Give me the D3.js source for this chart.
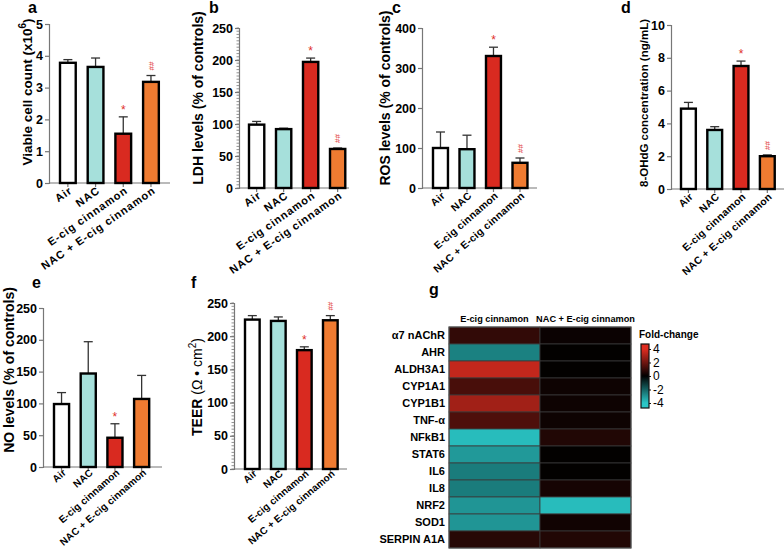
<!DOCTYPE html>
<html><head><meta charset="utf-8">
<script src="https://cdn.jsdelivr.net/npm/d3@7"></script>
<style>
body{margin:0;background:#fff;}
text{font-family:"Liberation Sans",Arial,sans-serif;}
</style></head>
<body>
<svg id="c" width="784" height="555"></svg>
<script>
// ---------- DATA ----------
const groups = ["Air", "NAC", "E-cig cinnamon", "NAC + E-cig cinnamon"];
const viableMean = [3.78, 3.65, 1.55, 3.18];
const viableErr  = [0.10, 0.28, 0.53, 0.20];
const ldhMean = [99, 92, 197, 61];
const ldhErr  = [5, 1.5, 6, 1.5];
const rosMean = [100, 97, 330, 63];
const rosErr  = [40, 35, 22, 12];
const ohdgMean = [4.9, 3.6, 7.5, 2.0];
const ohdgErr  = [0.38, 0.2, 0.3, 0.08];
const noMean = [99, 147, 46, 107];
const noErr  = [18, 50, 22, 37];
const teerMean = [225, 223, 179, 224];
const teerErr  = [6, 6, 5, 7];
const sigFull = ["", "", "*", "##"];
const sigStarOnly = ["", "", "*", ""];

const genes = ["α7 nAChR","AHR","ALDH3A1","CYP1A1","CYP1B1","TNF-α","NFkB1","STAT6","IL6","IL8","NRF2","SOD1","SERPIN A1A"];
const heatCols = ["E-cig cinnamon", "NAC + E-cig cinnamon"];
const foldEcig    = [0.9, -2.6, 3.5, 1.3, 2.9, 1.4, -3.8, -3.1, -2.5, -2.5, -3.0, -3.0, 0.7];
const foldNacEcig = [0.2, 0.05, 0.05, 0.25, 0.25, 0.25, 0.6, 0.05, 0.05, 0.4, -3.8, 0.3, 0.6];
const legendTicks = [4, 2, 0, -2, -4];

const barColors = ["#ffffff", "#a6e0db", "#d92a20", "#ef7b31"];

// ---------- DRAW ----------
const svg = d3.select("#c");

function barPanel(o) {
  const g = svg.append("g");
  const y = d3.scaleLinear().domain([0, o.max]).range([o.y0, o.yTop]);
  const r0 = o.L - 0.18 * o.S;
  const x = d3.scaleBand().domain(groups).range([r0, r0 + 4 * o.S]).paddingInner(0.36).paddingOuter(0.18);
  if (o.minor) {
    const mt = d3.range(0, o.max + 1e-9, o.minor);
    g.selectAll("line.minor").data(mt).join("line")
      .attr("x1", o.ax - 2.5).attr("x2", o.ax)
      .attr("y1", d => y(d)).attr("y2", d => y(d))
      .attr("stroke", "#777").attr("stroke-width", 0.8);
  }
  const axis = d3.axisLeft(y).tickValues(o.ticks).tickSize(4).tickPadding(2).tickFormat(d3.format("d"));
  const ag = g.append("g").attr("transform", `translate(${o.ax},0)`).call(axis);
  ag.select(".domain").attr("stroke", "#777").attr("stroke-width", 1.2);
  ag.selectAll(".tick line").attr("stroke", "#777").attr("stroke-width", 1.2);
  ag.selectAll(".tick text").attr("font-size", o.tickFs || 12.5).attr("font-weight", "bold").attr("fill", "#000")
    .attr("font-family", "Liberation Sans, Arial, sans-serif");
  g.append("line").attr("x1", o.ax).attr("x2", o.xEnd).attr("y1", o.y0).attr("y2", o.y0)
    .attr("stroke", "#777").attr("stroke-width", 1.2);
  g.selectAll("line.xt").data(groups).join("line")
    .attr("x1", d => x(d) + x.bandwidth() / 2).attr("x2", d => x(d) + x.bandwidth() / 2)
    .attr("y1", o.y0).attr("y2", o.y0 + 4).attr("stroke", "#777").attr("stroke-width", 1.2);
  g.selectAll("text.xl").data(groups).join("text")
    .attr("transform", d => `translate(${x(d) + x.bandwidth() / 2 + 3},${o.y0 + (o.xOff || 6)}) rotate(${-o.ang})`)
    .attr("text-anchor", "end").attr("font-size", o.xFs).attr("font-weight", "bold").attr("dy", "0.35em")
    .attr("letter-spacing", o.ls).text(d => d);
  g.selectAll("g.err").data(groups).join("g").each(function (d, i) {
    const cx = x(d) + x.bandwidth() / 2;
    const top = y(o.mean[i] + o.err[i]);
    const e = d3.select(this);
    e.append("line").attr("x1", cx).attr("x2", cx).attr("y1", y(o.mean[i])).attr("y2", top)
      .attr("stroke", "#333").attr("stroke-width", 1.3);
    e.append("line").attr("x1", cx - 4.5).attr("x2", cx + 4.5).attr("y1", top).attr("y2", top)
      .attr("stroke", "#333").attr("stroke-width", 1.3);
  });
  g.selectAll("rect.bar").data(groups).join("rect")
    .attr("x", d => x(d) + 1).attr("width", x.bandwidth() - 2)
    .attr("y", (d, i) => y(o.mean[i])).attr("height", (d, i) => o.y0 - y(o.mean[i]))
    .attr("fill", (d, i) => barColors[i]).attr("stroke", "#000").attr("stroke-width", 2.4);
  groups.forEach((d, i) => {
    const s = o.sig[i];
    if (!s) return;
    const cx = x(d) + x.bandwidth() / 2;
    const top = y(o.mean[i] + o.err[i]);
    if (s === "*") {
      g.append("text").attr("x", cx).attr("y", top - 3).attr("text-anchor", "middle")
        .attr("font-size", 12).attr("fill", "#e0302a").text("*");
    } else {
      g.append("text").attr("transform", `translate(${cx},${top - 5}) rotate(-90)`)
        .attr("text-anchor", "start").attr("dy", "0.35em").attr("font-size", 8).attr("fill", "#e0302a").text("##");
    }
  });
  const t = g.append("text").attr("transform", `translate(${o.tx},${o.ty}) rotate(-90)`)
    .attr("text-anchor", "middle").attr("font-size", o.titleFs || 14).attr("font-weight", "bold");
  o.title(t);
  svg.append("text").attr("x", o.lx).attr("y", o.ly).attr("font-size", 16).attr("font-weight", "bold").text(o.label);
}

barPanel({ label: "a", lx: 28, ly: 13, ax: 49, xEnd: 170, y0: 183, yTop: 24, max: 5, ticks: [0,1,2,3,4,5],
  L: 59, S: 27.7, mean: viableMean, err: viableErr, sig: sigFull, tx: 32, ty: 92, titleFs: 13.5, xFs: 11, ang: 35, ls: 0.9,
  title: t => { t.append("tspan").text("Viable cell count (x10"); t.append("tspan").attr("dy", -6).attr("font-size", 10).text("6");
               t.append("tspan").attr("dy", 6).text(")"); } });

barPanel({ label: "b", lx: 209, ly: 13, ax: 239, xEnd: 349, y0: 188, yTop: 28, max: 250, ticks: [0,50,100,150,200,250], minor: 5,
  L: 248, S: 27, mean: ldhMean, err: ldhErr, sig: sigFull, tx: 203, ty: 98, xFs: 11, ang: 35, ls: 0.8,
  title: t => t.text("LDH levels (% of controls)") });

barPanel({ label: "c", lx: 392, ly: 13, ax: 422, xEnd: 537, y0: 188, yTop: 28, max: 400, ticks: [0,100,200,300,400],
  L: 432, S: 26.5, mean: rosMean, err: rosErr, sig: sigFull, tx: 390, ty: 98, xFs: 10.3, ang: 41, ls: 0.3,
  title: t => t.text("ROS levels (% of controls)") });

barPanel({ label: "d", lx: 621, ly: 13, ax: 671, xEnd: 784, y0: 189, yTop: 25, max: 10, ticks: [0,2,4,6,8,10],
  L: 680, S: 26.3, mean: ohdgMean, err: ohdgErr, sig: sigFull, tx: 648, ty: 103, titleFs: 11.5, xFs: 10.3, ang: 42, ls: 0.3,
  title: t => t.text("8-OHdG concentration (ng/mL)") });

barPanel({ label: "e", lx: 32, ly: 288, ax: 43, xEnd: 162, y0: 467, yTop: 308, max: 250, ticks: [0,50,100,150,200,250],
  L: 53, S: 26.7, mean: noMean, err: noErr, sig: sigStarOnly, tx: 14, ty: 370, xFs: 10, ang: 41, ls: 0.15, xOff: 4,
  title: t => t.text("NO levels (% of controls)") });

barPanel({ label: "f", lx: 191, ly: 288, ax: 234, xEnd: 347, y0: 469, yTop: 303, max: 250, ticks: [0,50,100,150,200,250], minor: 5,
  L: 244, S: 26, mean: teerMean, err: teerErr, sig: sigFull, tx: 202, ty: 387, xFs: 10, ang: 40, ls: 0.1, xOff: 3,
  title: t => { t.append("tspan").text("TEER "); t.append("tspan").attr("font-weight", "normal").text("(Ω • cm");
               t.append("tspan").attr("dy", -6).attr("font-size", 10).attr("font-weight", "normal").text("2");
               t.append("tspan").attr("dy", 6).attr("font-weight", "normal").text(")"); } });

// ---------- HEATMAP ----------
const color = d3.scaleLinear().domain([-4, 0, 4]).range(["#2ac6c6", "#000000", "#de2c20"]).clamp(true);
const hx = d3.scaleBand().domain(heatCols).range([449, 631]);
const hy = d3.scaleBand().domain(genes).range([327, 548]);
const hg = svg.append("g");
const cells = [];
genes.forEach((gname, i) => {
  cells.push({ col: heatCols[0], gene: gname, v: foldEcig[i] });
  cells.push({ col: heatCols[1], gene: gname, v: foldNacEcig[i] });
});
hg.selectAll("rect").data(cells).join("rect")
  .attr("x", d => hx(d.col)).attr("y", d => hy(d.gene))
  .attr("width", hx.bandwidth()).attr("height", hy.bandwidth())
  .attr("fill", d => color(d.v)).attr("stroke", "#3a3a3a").attr("stroke-width", 0.8);
hg.append("rect").attr("x", 449).attr("y", 327).attr("width", 182).attr("height", 221)
  .attr("fill", "none").attr("stroke", "#555").attr("stroke-width", 1);
hg.selectAll("text.row").data(genes).join("text")
  .attr("x", 445).attr("y", d => hy(d) + hy.bandwidth() / 2).attr("dy", "0.35em")
  .attr("text-anchor", "end").attr("font-size", 11).attr("font-weight", "bold").text(d => d);
hg.selectAll("text.col").data(heatCols).join("text")
  .attr("x", d => hx(d) + hx.bandwidth() / 2).attr("y", 322)
  .attr("text-anchor", "middle").attr("font-size", 9.2).attr("font-weight", "bold").text(d => d);
svg.append("text").attr("x", 429).attr("y", 295).attr("font-size", 16).attr("font-weight", "bold").text("g");

// legend
const ly = d3.scaleLinear().domain([4, -4]).range([349, 403]);
const defs = svg.append("defs");
const grad = defs.append("linearGradient").attr("id", "fc").attr("x1", 0).attr("x2", 0).attr("y1", 0).attr("y2", 1);
d3.range(4, -4.01, -1).forEach(v => {
  grad.append("stop").attr("offset", (ly(v) - 344) / (408 - 344)).attr("stop-color", color(v));
});
svg.append("text").attr("x", 639).attr("y", 338).attr("font-size", 10).attr("font-weight", "bold").text("Fold-change");
svg.append("rect").attr("x", 641).attr("y", 344).attr("width", 8).attr("height", 64)
  .attr("fill", "url(#fc)").attr("stroke", "#111").attr("stroke-width", 1.2);
const lg = svg.append("g").attr("transform", "translate(649,0)")
  .call(d3.axisRight(ly).tickValues(legendTicks).tickSize(2).tickPadding(2).tickFormat(d => d < 0 ? "-" + Math.abs(d) : d));
lg.select(".domain").remove();
lg.selectAll(".tick line").attr("stroke", "#111");
lg.selectAll(".tick text").attr("font-size", 12).attr("fill", "#000").attr("font-family", "Liberation Sans, Arial, sans-serif");
</script>
</body></html>
